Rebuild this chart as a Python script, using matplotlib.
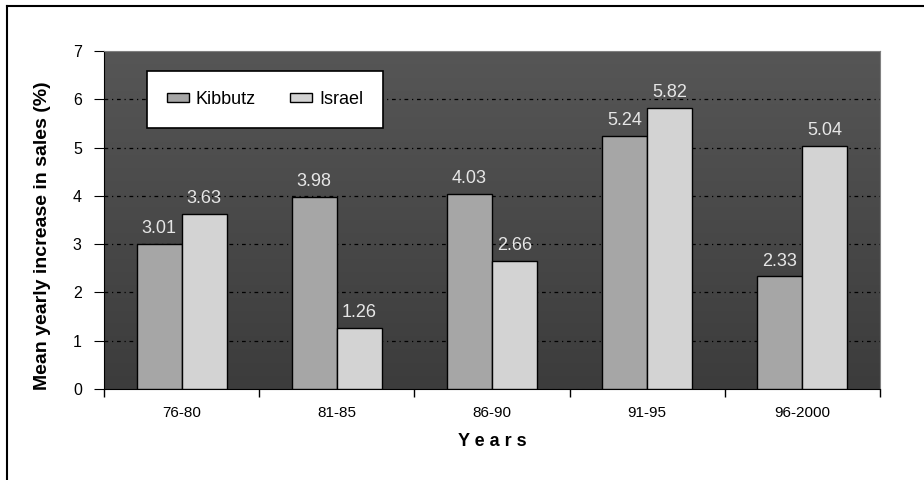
import numpy as np
import matplotlib.pyplot as plt
from matplotlib.lines import Line2D
from matplotlib.colors import LinearSegmentedColormap

plt.rcParams['font.family'] = ['Liberation Sans', 'DejaVu Sans']

# data
periods = ['76-80', '81-85', '86-90', '91-95', '96-2000']
kibbutz = [3.01, 3.98, 4.03, 5.24, 2.33]
israel = [3.63, 1.26, 2.66, 5.82, 5.04]

fig = plt.figure(figsize=(9.24, 4.8), dpi=100)
ax = fig.add_axes([104/924, 1-389/480, 776/924, 338/480])

# gradient background
grad = np.linspace(0, 1, 256).reshape(-1, 1)
bg = LinearSegmentedColormap.from_list('bg', ['#3c3c3c', '#565656'])
ax.imshow(grad, extent=[0, 1, 0, 1], transform=ax.transAxes, aspect='auto',
          cmap=bg, origin='lower', zorder=0)

x = np.arange(len(periods))
w = 0.29
b1 = ax.bar(x - w/2, kibbutz, w, color='#a6a6a6', edgecolor='black', linewidth=1, label='Kibbutz', zorder=3)
b2 = ax.bar(x + w/2, israel, w, color='#d3d3d3', edgecolor='black', linewidth=1, label='Israel', zorder=3)

for bars, vals in ((b1, kibbutz), (b2, israel)):
    for r, v in zip(bars, vals):
        ax.annotate(f'{v:.2f}', (r.get_x() + r.get_width()/2, v), xytext=(0, 5),
                    textcoords='offset points', ha='center', va='bottom',
                    fontsize=13, color='#e6e6e6', zorder=4)

ax.set_xlim(-0.5, len(periods) - 0.5)
ax.set_ylim(0, 7)
ax.set_yticks(range(8))
for yv in range(1, 7):
    ax.axhline(yv, color='black', linestyle=(0, (3, 3, 1, 3)), linewidth=0.9, zorder=1)

ax.set_xticks(np.arange(len(periods) + 1) - 0.5)
ax.set_xticklabels([])
ax.set_xticks(x, minor=True)
ax.set_xticklabels(periods, minor=True, fontsize=11)
ax.tick_params(axis='x', which='minor', length=0, pad=12)
ax.tick_params(axis='x', which='major', length=6, direction='out', width=1)
ax.tick_params(axis='y', length=7, direction='out', labelsize=11.5, pad=9)

for s in ('top', 'right'):
    ax.spines[s].set_color('#808080')
ax.spines['left'].set_color('black')
ax.spines['bottom'].set_color('black')

ax.set_ylabel('Mean yearly increase in sales (%)', fontsize=14, fontweight='bold')
ax.yaxis.set_label_coords(-0.068, 0.455)
ax.set_xlabel('Y e a r s', fontsize=13, fontweight='bold')
ax.xaxis.set_label_coords(0.5, -0.13)

leg = ax.legend(loc='upper left', bbox_to_anchor=(0.0554, 0.760, 0.304, 0.181), mode='expand',
                ncol=2, fontsize=13, frameon=True, fancybox=False, handlelength=1.2,
                handleheight=0.45, borderaxespad=0, borderpad=1.1, columnspacing=2.5, handletextpad=0.4)
leg.get_frame().set_edgecolor('black')
leg.get_frame().set_linewidth(1.2)
leg.get_frame().set_facecolor('white')
leg.get_frame().set_alpha(1)
leg.set_zorder(5)

# outer frame (left and top edges visible)
fig.add_artist(Line2D([7/924, 7/924], [0, 1 - 6/480], color='black', linewidth=1.5))
fig.add_artist(Line2D([7/924, 1], [1 - 6/480, 1 - 6/480], color='black', linewidth=1.5))

fig.savefig('out.png', dpi=100)
